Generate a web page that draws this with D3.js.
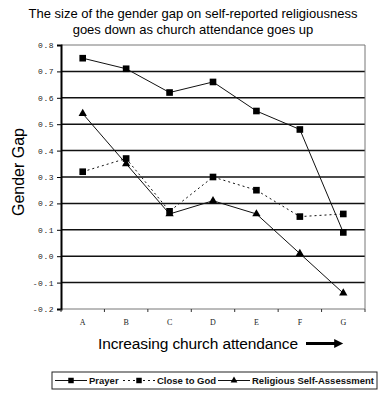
<!DOCTYPE html>
<html>
<head>
<meta charset="utf-8">
<script src="https://cdn.jsdelivr.net/npm/d3@7"></script>
<style>
  body { margin: 0; background: #fff; }
  svg { display: block; }
</style>
</head>
<body>
<svg id="chart" width="387" height="400"></svg>
<script>
// data
var categories = ['A', 'B', 'C', 'D', 'E', 'F', 'G']
var prayer     = [0.75, 0.71, 0.62, 0.66, 0.55, 0.48, 0.09]
var closeToGod = [0.32, 0.37, 0.17, 0.30, 0.25, 0.15, 0.16]
var selfAssess = [0.54, 0.35, 0.16, 0.21, 0.16, 0.01, -0.14]
var yTicks     = [0.8, 0.7, 0.6, 0.5, 0.4, 0.3, 0.2, 0.1, 0.0, -0.1, -0.2]
var seriesNames = ['Prayer', 'Close to God', 'Religious Self-Assessment']

var series = [
  { name: seriesNames[0], values: prayer,     marker: 'square',   dash: null },
  { name: seriesNames[1], values: closeToGod, marker: 'square',   dash: '2,3' },
  { name: seriesNames[2], values: selfAssess, marker: 'triangle', dash: null }
]

var svg = d3.select('#chart')
var plot = { left: 61, right: 365, top: 45, bottom: 309 }

var x = d3.scaleBand().domain(categories).range([plot.left, plot.right])
var y = d3.scaleLinear().domain([-0.2, 0.8]).range([plot.bottom, plot.top])

// title
svg.append('text')
  .attr('x', 193).attr('y', 18)
  .attr('text-anchor', 'middle')
  .style('font', '13px "Liberation Sans", Arial, sans-serif')
  .text('The size of the gender gap on self-reported religiousness')
svg.append('text')
  .attr('x', 193).attr('y', 34)
  .attr('text-anchor', 'middle')
  .style('font', '13px "Liberation Sans", Arial, sans-serif')
  .text('goes down as church attendance goes up')

// gridlines
svg.append('g')
  .selectAll('line')
  .data(yTicks.filter(d => d > -0.2 && d < 0.8))
  .join('line')
  .attr('x1', plot.left).attr('x2', plot.right)
  .attr('y1', d => y(d)).attr('y2', d => y(d))
  .attr('stroke', '#111').attr('stroke-width', 1.5)

// frame top/right/bottom in grey
svg.append('path')
  .attr('d', `M${plot.left},${plot.top}H${plot.right}V${plot.bottom}H${plot.left}`)
  .attr('fill', 'none').attr('stroke', '#777').attr('stroke-width', 1)

// y axis
var yAxis = svg.append('g')
  .attr('transform', `translate(${plot.left},0)`)
  .call(d3.axisLeft(y).tickValues(yTicks).tickSize(4).tickFormat(d3.format('.1f')))
yAxis.select('.domain').attr('stroke', '#000').attr('stroke-width', 2)
yAxis.selectAll('.tick line').attr('stroke', '#000')
yAxis.selectAll('.tick text')
  .attr('x', -7)
  .style('font', '8px "Liberation Mono", "Courier New", monospace')
  .style('letter-spacing', '0.5px')
  .attr('fill', '#222')
  .text(d => d3.format('.1f')(d).replace('−', '-'))

// x axis ticks at band boundaries
var bounds = categories.map(c => x(c)).concat([plot.right])
svg.append('g')
  .selectAll('line')
  .data(bounds)
  .join('line')
  .attr('x1', d => d).attr('x2', d => d)
  .attr('y1', plot.bottom).attr('y2', plot.bottom + 3)
  .attr('stroke', '#333')
svg.append('g')
  .selectAll('text')
  .data(categories)
  .join('text')
  .attr('x', d => x(d) + x.bandwidth() / 2)
  .attr('y', 325)
  .attr('text-anchor', 'middle')
  .style('font', '8px "Liberation Serif", "Times New Roman", serif')
  .attr('fill', '#222')
  .text(d => d)

// axis titles
svg.append('text')
  .attr('transform', 'translate(24,172) rotate(-90)')
  .attr('text-anchor', 'middle')
  .style('font', '16px "Liberation Sans", Arial, sans-serif')
  .text('Gender Gap')
svg.append('text')
  .attr('x', 98).attr('y', 349)
  .attr('textLength', 200)
  .style('font', '15.5px "Liberation Sans", Arial, sans-serif')
  .text('Increasing church attendance')

svg.append('defs').append('marker')
  .attr('id', 'arrow')
  .attr('viewBox', '0 0 10 10')
  .attr('refX', 2).attr('refY', 5)
  .attr('markerWidth', 3.2).attr('markerHeight', 3)
  .attr('orient', 'auto')
  .append('path').attr('d', 'M0,0L10,5L0,10Z').attr('fill', '#000')
svg.append('line')
  .attr('x1', 306).attr('x2', 336)
  .attr('y1', 343.5).attr('y2', 343.5)
  .attr('stroke', '#000').attr('stroke-width', 3)
  .attr('marker-end', 'url(#arrow)')

// lines and markers
var line = d3.line()
  .x((d, i) => x(categories[i]) + x.bandwidth() / 2)
  .y(d => y(d))

var sq = d3.symbol().type(d3.symbolSquare).size(44)
var tri = d3.symbol().type(d3.symbolTriangle).size(30)

// draw the self-assessment first so squares sit on top
var order = [series[2], series[1], series[0]]
order.forEach(s => {
  svg.append('path')
    .datum(s.values)
    .attr('d', line)
    .attr('fill', 'none')
    .attr('stroke', '#111')
    .attr('stroke-width', 1)
    .attr('stroke-dasharray', s.dash)
  svg.append('g')
    .selectAll('path')
    .data(s.values)
    .join('path')
    .attr('transform', (d, i) => `translate(${x(categories[i]) + x.bandwidth() / 2},${y(d)})`)
    .attr('d', s.marker == 'square' ? sq : tri)
    .attr('fill', '#000')
})

// legend
var lg = svg.append('g')
lg.append('rect')
  .attr('x', 52).attr('y', 372).attr('width', 325).attr('height', 17)
  .attr('fill', '#fff').attr('stroke', '#222').attr('stroke-width', 1)
var legendX = [55, 123, 218]
series.forEach((s, i) => {
  var x0 = legendX[i]
  var ly = 380.5
  lg.append('line')
    .attr('x1', x0).attr('x2', x0 + 32)
    .attr('y1', ly).attr('y2', ly)
    .attr('stroke', '#111').attr('stroke-width', 1)
    .attr('stroke-dasharray', s.dash)
  lg.append('path')
    .attr('transform', `translate(${x0 + 16},${ly})`)
    .attr('d', s.marker == 'square' ? d3.symbol().type(d3.symbolSquare).size(30) : d3.symbol().type(d3.symbolTriangle).size(20))
    .attr('fill', '#000')
  lg.append('text')
    .attr('x', x0 + 34).attr('y', ly + 3.5)
    .style('font', 'bold 9.5px "Liberation Sans", Arial, sans-serif')
    .attr('fill', '#111')
    .text(s.name)
})
</script>
</body>
</html>
